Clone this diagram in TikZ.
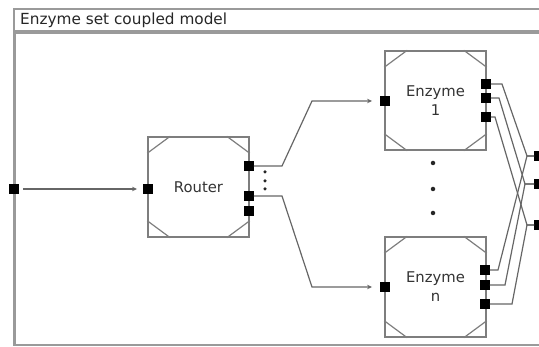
\documentclass[tikz,border=0pt]{standalone}
\usepackage{fontspec}
\setmainfont{DejaVu Sans}
\usetikzlibrary{arrows.meta,calc}
\definecolor{boxgray}{HTML}{7E7E7E}
\definecolor{wiregray}{HTML}{666666}
\definecolor{framegray}{HTML}{9A9A9A}
\definecolor{txt}{HTML}{333333}
\newcommand\boxcorners[1]{%
  \draw[cornerline] ($(#1.north west)+(0,17)$) -- ($(#1.north west)+(23,0)$);
  \draw[cornerline] ($(#1.north east)+(0,17)$) -- ($(#1.north east)+(-23,0)$);
  \draw[cornerline] ($(#1.south west)+(0,-17)$) -- ($(#1.south west)+(23,0)$);
  \draw[cornerline] ($(#1.south east)+(0,-17)$) -- ($(#1.south east)+(-23,0)$);}
\begin{document}
\begin{tikzpicture}[x=1pt,y=-1pt,
  blk/.style={draw=boxgray, line width=1.5pt, minimum width=101pt, minimum height=100pt,
    inner sep=0pt, font=\fontsize{14.8}{19}\selectfont, text=txt, align=center},
  cornerline/.style={draw=boxgray, line width=1.2pt},
  port/.style={fill=black, minimum size=9.5pt, inner sep=0pt},
  wire/.style={draw=wiregray, line width=1.2pt},
  arr/.style={wire, -{Stealth[length=5pt,width=4.5pt]}},
  frameline/.style={draw=framegray, line width=1.8pt},
  dotmark/.style={circle, fill=black!85, inner sep=0pt, minimum size=3.5pt}]
\useasboundingbox (0,0) rectangle (539,347);
\clip (0,0) rectangle (539,347);
% frame
\draw[frameline] (14,9) rectangle (600,31);
\draw[frameline] (14,33) rectangle (600,345);
\draw[draw=framegray, line width=3pt] (14.5,33) -- (14.5,345);
\node[anchor=west, font=\fontsize{15.3}{17}\selectfont, text=black!85, inner sep=0pt] (title) at (20,20) {Enzyme set coupled model};
% blocks
\node[blk] (router) at (198.5,187) {Router};
\node[blk, minimum height=99pt] (enz1) at (435.5,100.5) {Enzyme\\1};
\node[blk] (enzn) at (435.5,287) {Enzyme\\n};
\boxcorners{router}
\boxcorners{enz1}
\boxcorners{enzn}
% ports
\node[port] (inp) at (14,189) {};
\node[port] (rin) at (148,189) {};
\node[port] (ro1) at (249,166) {};
\node[port] (ro2) at (249,196) {};
\node[port] (ro3) at (249,211) {};
\node[port] (e1in) at (385,101) {};
\node[port] (e1o1) at (486,84) {};
\node[port] (e1o2) at (486,98) {};
\node[port] (e1o3) at (486,117) {};
\node[port] (enin) at (385,287) {};
\node[port] (eno1) at (485,270) {};
\node[port] (eno2) at (485,285) {};
\node[port] (eno3) at (485,304) {};
\node[port] (out1) at (539,156) {};
\node[port] (out2) at (539,184) {};
\node[port] (out3) at (539,225) {};
% dots
\node[dotmark] (rd1) at (265,172) {};
\node[dotmark] (rd2) at (265,181) {};
\node[dotmark] (rd3) at (265,189) {};
\node[dotmark, minimum size=4.5pt] (ed1) at (433,163) {};
\node[dotmark, minimum size=4.5pt] (ed2) at (433,189) {};
\node[dotmark, minimum size=4.5pt] (ed3) at (433,213) {};
% wires
\draw[arr, shorten <=4pt, shorten >=6pt] (inp.east) -- (rin.west);
\draw[arr, shorten >=8pt] (ro1.east) -- (282,166) -- (312,101) -- (e1in.west);
\draw[arr, shorten >=8pt] (ro2.east) -- (282,196) -- (312,287) -- (enin.west);
\draw[wire] (e1o1.east) -- (502,84) -- (527,156) -- (out1.west);
\draw[wire] (e1o2.east) -- (499,98) -- (525,184) -- (out2.west);
\draw[wire] (e1o3.east) -- (495,117) -- (527,225) -- (out3.west);
\draw[wire] (eno1.east) -- (498,270) -- (527,156) -- (out1.west);
\draw[wire] (eno2.east) -- (505,285) -- (525,184) -- (out2.west);
\draw[wire] (eno3.east) -- (512,304) -- (527,225) -- (out3.west);
\end{tikzpicture}
\end{document}
